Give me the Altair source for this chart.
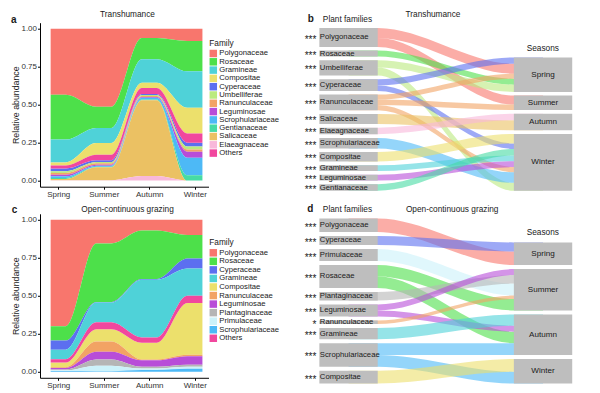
import altair as alt
import pandas as pd

seasons = ["Spring", "Summer", "Autumn", "Winter"]

# ---------------- panel a : Transhumance relative abundance ----------------
fam_a = ["Polygonaceae", "Rosaceae", "Gramineae", "Compositae", "Cyperaceae",
         "Umbelliferae", "Ranunculaceae", "Leguminosae", "Scrophulariaceae",
         "Gentianaceae", "Salicaceae", "Elaeagnaceae", "Others"]
spring_a = [0.434, 0.296, 0.150, 0.020, 0.018, 0.012, 0.012, 0.010, 0.010, 0.008, 0.008, 0.002, 0.020]
summer_a = [0.513, 0.140, 0.100, 0.076, 0.012, 0.008, 0.010, 0.006, 0.006, 0.004, 0.085, 0.003, 0.037]
autumn_a = [0.060, 0.140, 0.155, 0.035, 0.006, 0.006, 0.008, 0.004, 0.012, 0.004, 0.500, 0.030, 0.040]
winter_a = [0.080, 0.200, 0.240, 0.170, 0.025, 0.020, 0.015, 0.040, 0.115, 0.035, 0.000, 0.000, 0.060]
stack_a = ["Elaeagnaceae", "Salicaceae", "Gentianaceae", "Scrophulariaceae", "Leguminosae",
           "Ranunculaceae", "Umbelliferae", "Cyperaceae", "Others", "Compositae",
           "Gramineae", "Rosaceae", "Polygonaceae"]

# ---------------- panel c : Open-continuous grazing relative abundance ----------------
fam_c = ["Polygonaceae", "Rosaceae", "Cyperaceae", "Gramineae", "Compositae",
         "Ranunculaceae", "Leguminosae", "Plantaginaceae", "Primulaceae",
         "Scrophulariaceae", "Others"]
spring_c = [0.700, 0.095, 0.060, 0.063, 0.030, 0.005, 0.010, 0.006, 0.005, 0.004, 0.022]
summer_c = [0.155, 0.386, 0.004, 0.130, 0.081, 0.067, 0.051, 0.041, 0.037, 0.003, 0.045]
autumn_c = [0.070, 0.320, 0.004, 0.380, 0.110, 0.006, 0.042, 0.012, 0.010, 0.011, 0.035]
winter_c = [0.100, 0.155, 0.065, 0.180, 0.340, 0.010, 0.056, 0.014, 0.013, 0.019, 0.048]
stack_c = ["Scrophulariaceae", "Primulaceae", "Plantaginaceae", "Leguminosae", "Ranunculaceae",
           "Compositae", "Others", "Gramineae", "Cyperaceae", "Rosaceae", "Polygonaceae"]

# ---------------- panel b : Transhumance alluvial ----------------
left_b = ["Polygonaceae", "Rosaceae", "Umbelliferae", "Cyperaceae", "Ranunculaceae",
          "Salicaceae", "Elaeagnaceae", "Scrophulariaceae", "Compositae", "Gramineae",
          "Leguminosae", "Gentianaceae"]
stars_b = ["***"] * 12
flow_fam_b = ["Polygonaceae", "Polygonaceae", "Rosaceae", "Umbelliferae", "Umbelliferae",
              "Cyperaceae", "Cyperaceae", "Ranunculaceae", "Ranunculaceae", "Ranunculaceae",
              "Salicaceae", "Elaeagnaceae", "Scrophulariaceae", "Compositae", "Gramineae",
              "Leguminosae", "Gentianaceae"]
flow_season_b = ["Spring", "Summer", "Spring", "Spring", "Winter",
                 "Spring", "Winter", "Spring", "Summer", "Winter",
                 "Autumn", "Autumn", "Winter", "Winter", "Winter",
                 "Winter", "Winter"]
flow_val_b = [10.0, 9.0, 6.0, 7.2, 8.0,
              6.2, 5.5, 5.0, 5.5, 5.2,
              10.0, 6.5, 10.5, 9.5, 5.8,
              5.8, 6.5]

# ---------------- panel d : Open-continuous grazing alluvial ----------------
left_d = ["Polygonaceae", "Cyperaceae", "Primulaceae", "Rosaceae", "Plantaginaceae",
          "Leguminosae", "Ranunculaceae", "Gramineae", "Scrophulariaceae", "Compositae"]
stars_d = ["***", "***", "***", "***", "***", "***", "*", "***", "***", "***"]
flow_fam_d = ["Polygonaceae", "Cyperaceae", "Primulaceae", "Rosaceae", "Rosaceae",
              "Plantaginaceae", "Leguminosae", "Leguminosae", "Ranunculaceae", "Gramineae",
              "Scrophulariaceae", "Scrophulariaceae", "Compositae"]
flow_season_d = ["Spring", "Spring", "Summer", "Summer", "Autumn",
                 "Summer", "Summer", "Autumn", "Summer", "Autumn",
                 "Autumn", "Winter", "Winter"]
flow_val_d = [13.5, 9.2, 12.0, 11.3, 11.5,
              8.5, 6.0, 6.0, 3.5, 11.3,
              11.7, 11.8, 12.8]

colors = {
    "Polygonaceae": "#F8766D", "Rosaceae": "#4DE04A", "Gramineae": "#4FD2D8",
    "Compositae": "#ECE06C", "Cyperaceae": "#5C6FF0", "Umbelliferae": "#BBEA7E",
    "Ranunculaceae": "#F2A364", "Leguminosae": "#B84DD8", "Scrophulariaceae": "#4DB9F6",
    "Gentianaceae": "#46DBA4", "Salicaceae": "#EBC163", "Elaeagnaceae": "#F8B8DA",
    "Others": "#F1479E", "Plantaginaceae": "#B5B5B5", "Primulaceae": "#CCF2FA",
}

FONT = "Liberation Sans"
TXT = "#1a1a1a"
HALF = 1 / 6          # plateau half width of each season
AREA_W, AREA_H = 168.5, 164
SK_W = 276
SK_XDOM = [-0.247, 1.172]
BAR = 0.15
GRAY = "#BEBEBE"


def label_layer(text, x, y, size=8.3, bold=False, align="center"):
    return alt.Chart(pd.DataFrame({"t": [text]})).mark_text(
        align=align, baseline="alphabetic", fontSize=size,
        fontWeight="bold" if bold else "normal", color=TXT, font=FONT
    ).encode(text="t:N", x=alt.value(x), y=alt.value(y))


def area_panel(fams, by_season, stack, title, letter, title_y, letter_x, letter_y, leg_y, row_pad):
    rows = []
    for fi, f in enumerate(fams):
        for si in range(4):
            v = by_season[si][fi]
            for dx in (-HALF, HALF):
                rows.append({"family": f, "x": si + dx, "value": v, "rank": stack.index(f)})
    df = pd.DataFrame(rows)
    area = alt.Chart(df).mark_area(interpolate="monotone").encode(
        x=alt.X("x:Q", scale=alt.Scale(domain=[-0.4, 3.3], nice=False, zero=False),
                axis=alt.Axis(values=[0, 1, 2, 3], title=None, grid=False,
                              labelExpr="['Spring','Summer','Autumn','Winter'][datum.value]",
                              labelFontSize=8, labelColor="#333333", tickSize=2.5,
                              labelPadding=1.5, domainColor="black", tickColor="black",
                              labelFont=FONT, labelFlush=False)),
        y=alt.Y("value:Q", stack="zero",
                scale=alt.Scale(domain=[-0.04, 1.04], nice=False, zero=False),
                axis=alt.Axis(values=[0, 0.25, 0.5, 0.75, 1], format=".2f",
                              title="Relative abundance", grid=False, labelFontSize=8,
                              labelColor="#333333", tickSize=2.5, labelPadding=1,
                              domainColor="black", tickColor="black", titleFontSize=8.8,
                              titleFontWeight="normal", titleColor=TXT, titleX=-22,
                              titleY=AREA_H / 2, titleAngle=270, titleBaseline="alphabetic",
                              titleAlign="center", labelFont=FONT, titleFont=FONT,
                              labelFlush=False)),
        color=alt.Color("family:N",
                        scale=alt.Scale(domain=fams, range=[colors[f] for f in fams]),
                        legend=alt.Legend(title="Family", orient="none", legendX=169.3,
                                          legendY=leg_y, symbolType="square", symbolSize=56,
                                          symbolStrokeWidth=0, labelFontSize=7.7,
                                          titleFontSize=8.3, titleFontWeight="normal",
                                          titlePadding=2.5, rowPadding=row_pad, labelOffset=2,
                                          labelColor=TXT, titleColor=TXT, padding=0,
                                          symbolOpacity=1, labelFont=FONT, titleFont=FONT)),
        order=alt.Order("rank:Q", sort="ascending"),
    )
    return alt.layer(
        area,
        label_layer(title, 87.5, title_y),
        label_layer(letter, letter_x, letter_y, size=10, bold=True, align="left"),
    ).properties(width=AREA_W, height=AREA_H)


def sankey_panel(left, stars, ff, fs, fv, base, gap, height, heads):
    tot_f = {f: sum(v for f2, v in zip(ff, fv) if f2 == f) for f in left}
    seas = [s for s in seasons if s in fs]
    tot_s = {s: sum(v for s2, v in zip(fs, fv) if s2 == s) for s in seas}
    cur = base - (sum(tot_f.values()) + gap * (len(left) - 1))
    lpos = {}
    for f in left:
        lpos[f] = (cur, cur + tot_f[f])
        cur += tot_f[f] + gap
    cur = base - (sum(tot_s.values()) + gap * (len(seas) - 1))
    rpos = {}
    for s in seas:
        rpos[s] = (cur, cur + tot_s[s])
        cur += tot_s[s] + gap
    flows = list(zip(ff, fs, fv))
    lcur = {f: lpos[f][0] for f in left}
    lfl = {}
    for f, s, v in sorted(flows, key=lambda t: (left.index(t[0]), seasons.index(t[1]))):
        lfl[(f, s)] = (lcur[f], lcur[f] + v)
        lcur[f] += v
    rcur = {s: rpos[s][0] for s in seas}
    rfl = {}
    for f, s, v in sorted(flows, key=lambda t: (seasons.index(t[1]), t[0])):
        rfl[(f, s)] = (rcur[s], rcur[s] + v)
        rcur[s] += v
    rows = []
    for k, (f, s, v) in enumerate(flows):
        a0, a1 = lfl[(f, s)]
        b0, b1 = rfl[(f, s)]
        for x, (y0, y1) in [(0.0, (a0, a1)), (BAR, (a0, a1)), (1 - BAR, (b0, b1)), (1.0, (b0, b1))]:
            rows.append({"flow": k, "family": f, "x": x, "y": y0, "y2": y1})
    df_r = pd.DataFrame(rows)
    df_l = pd.DataFrame({"family": left, "star": stars,
                         "y0": [lpos[f][0] for f in left], "y1": [lpos[f][1] for f in left],
                         "x0": -BAR, "x1": BAR})
    df_l["ym"] = (df_l.y0 + df_l.y1) / 2
    df_s = pd.DataFrame({"season": seas, "y0": [rpos[s][0] for s in seas],
                         "y1": [rpos[s][1] for s in seas], "x0": 1 - BAR, "x1": 1 + BAR, "xc": 1.0})
    df_s["ym"] = (df_s.y0 + df_s.y1) / 2

    xs = alt.Scale(domain=SK_XDOM, nice=False, zero=False)
    ys = alt.Scale(domain=[0, height], reverse=True, nice=False, zero=False)
    fams = sorted(set(ff))
    ribbons = alt.Chart(df_r).mark_area(interpolate="monotone", opacity=0.6).encode(
        x=alt.X("x:Q", scale=xs, axis=None),
        y=alt.Y("y:Q", scale=ys, axis=None),
        y2="y2:Q",
        color=alt.Color("family:N", scale=alt.Scale(domain=fams, range=[colors[f] for f in fams]),
                        legend=None),
        detail="flow:N",
    )
    lrect = alt.Chart(df_l).mark_rect(color=GRAY).encode(
        x=alt.X("x0:Q", scale=xs, axis=None), x2="x1:Q",
        y=alt.Y("y0:Q", scale=ys, axis=None), y2="y1:Q")
    srect = alt.Chart(df_s).mark_rect(color=GRAY).encode(
        x=alt.X("x0:Q", scale=xs, axis=None), x2="x1:Q",
        y=alt.Y("y0:Q", scale=ys, axis=None), y2="y1:Q")
    ltext = alt.Chart(df_l).mark_text(align="left", baseline="middle", fontSize=7.7, dx=0.5,
                                      color=TXT, font=FONT).encode(
        x=alt.X("x0:Q", scale=xs, axis=None), y=alt.Y("ym:Q", scale=ys, axis=None),
        text="family:N")
    stext = alt.Chart(df_l).mark_text(align="right", baseline="middle", fontSize=10, dx=-3, dy=2.5,
                                      color=TXT, font=FONT).encode(
        x=alt.X("x0:Q", scale=xs, axis=None), y=alt.Y("ym:Q", scale=ys, axis=None),
        text="star:N")
    setext = alt.Chart(df_s).mark_text(align="center", baseline="middle", fontSize=8.1,
                                       color=TXT, font=FONT).encode(
        x=alt.X("xc:Q", scale=xs, axis=None), y=alt.Y("ym:Q", scale=ys, axis=None),
        text="season:N")
    layers = [ribbons, lrect, srect, ltext, stext, setext]
    for h in heads:
        layers.append(label_layer(*h))
    return alt.layer(*layers).properties(width=SK_W, height=height)


A = area_panel(fam_a, [spring_a, summer_a, autumn_a, winter_a], stack_a, "Transhumance", "a",
               -5.2, -29, 0.1, 16.0, 0.3)
C = area_panel(fam_c, [spring_c, summer_c, autumn_c, winter_c], stack_c, "Open-continuous grazing",
               "c", -1.5, -28.3, -1.0, 24.2, 0.55)
B = sankey_panel(left_b, stars_b, flow_fam_b, flow_season_b, flow_val_b, 168.1, 3.7, 171,
                 [("b", 7.3, -0.2, 10, True, "left"),
                  ("Plant families", 47, -0.2),
                  ("Transhumance", 132.5, -5.2),
                  ("Seasons", 242.3, 28.4)])
D = sankey_panel(left_d, stars_d, flow_fam_d, flow_season_d, flow_val_d, 169.7, 4.0, 172,
                 [("d", 6.7, -1.3, 10, True, "left"),
                  ("Plant families", 47, -1.3),
                  ("Open-continuous grazing", 151.7, -2.0),
                  ("Seasons", 242.3, 21.3)])

chart = alt.concat(
    A, B, C, D, columns=2,
    spacing={"row": 20.1, "column": 91.5},
    bounds="flush", align="each",
).resolve_scale(color="independent").properties(
    padding={"left": 3, "top": 1.7, "right": 2, "bottom": 0}
).configure(font=FONT).configure_view(strokeWidth=0)

chart.save("out.html", embed_options={"renderer": "svg", "actions": False})
